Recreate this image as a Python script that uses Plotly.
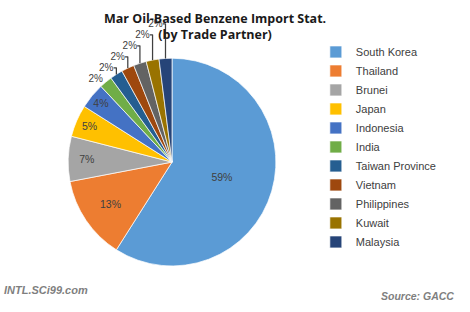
import plotly.graph_objects as go

partners = ["South Korea", "Thailand", "Brunei", "Japan", "Indonesia", "India",
            "Taiwan Province", "Vietnam", "Philippines", "Kuwait", "Malaysia"]
shares = [59, 13, 7, 5, 4, 2, 2, 2, 2, 2, 2]
colors = ["#5B9BD5", "#ED7D31", "#A5A5A5", "#FFC000", "#4472C4", "#70AD47",
          "#255E91", "#9E480E", "#636363", "#997300", "#264478"]
text_pos = ["inside"] * 5 + ["outside"] * 6

fig = go.Figure(go.Pie(
    labels=partners, values=shares, sort=False, direction="clockwise", rotation=0,
    marker=dict(colors=colors, line=dict(color="white", width=0.7)),
    texttemplate="%{percent:.0%}", textposition=text_pos,
    insidetextorientation="horizontal",
    insidetextfont=dict(family="Liberation Sans, Arial", size=10.5, color="#404040"),
    outsidetextfont=dict(family="Liberation Sans, Arial", size=10, color="#404040"),
    domain=dict(x=[0.145, 0.587], y=[0.147, 0.814]),
    hoverinfo="label+percent",
))

fig.update_layout(
    width=470, height=312,
    margin=dict(l=0, r=0, t=0, b=0),
    paper_bgcolor="white", plot_bgcolor="white",
    showlegend=True,
    legend=dict(x=0.672, y=0.88, xanchor="left", yanchor="top",
                font=dict(family="Liberation Sans, Arial", size=11, color="#404040"),
                itemwidth=30, traceorder="normal"),
    annotations=[
        dict(text="<b>Mar Oil-Based Benzene Import Stat.<br>(by Trade Partner)</b>",
             x=0.457, y=0.975, xref="paper", yref="paper", xanchor="center", yanchor="top",
             showarrow=False, font=dict(family="Open Sans, Liberation Sans", size=12.5, color="#1a1a1a")),
        dict(text="<b><i>INTL.SCi99.com</i></b>", x=0.005, y=0.07, xref="paper", yref="paper",
             xanchor="left", yanchor="middle", showarrow=False,
             font=dict(family="Liberation Sans, Arial", size=11, color="#7f7f7f")),
        dict(text="<b><i>Source: GACC</i></b>", x=0.97, y=0.05, xref="paper", yref="paper",
             xanchor="right", yanchor="middle", showarrow=False,
             font=dict(family="Liberation Sans, Arial", size=10.5, color="#7f7f7f")),
    ],
)

fig.write_html("out.html")
